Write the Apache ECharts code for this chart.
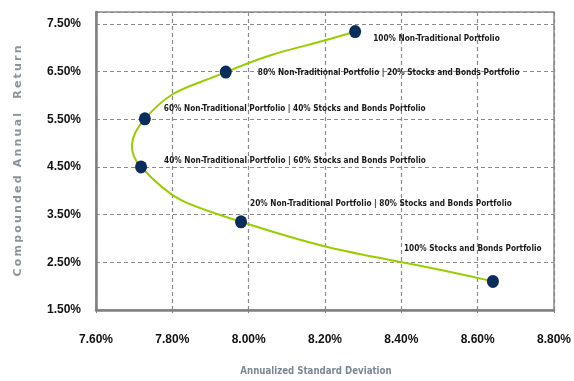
<!DOCTYPE html>
<html>
<head>
<meta charset="utf-8">
<script src="https://cdn.jsdelivr.net/npm/echarts@6/dist/echarts.min.js"></script>
<style>html,body{margin:0;padding:0;background:#fff}#c{width:574px;height:381px}</style>
</head>
<body>
<div id="c"></div>
<script>
// Data
var stdDev = [8.279, 7.94, 7.728, 7.718, 7.98, 8.64];
var compReturn = [7.34, 6.49, 5.51, 4.50, 3.35, 2.10];
var pointLabels = [
  '100% Non-Traditional Portfolio',
  '80% Non-Traditional Portfolio | 20% Stocks and Bonds Portfolio',
  '60% Non-Traditional Portfolio | 40% Stocks and Bonds Portfolio',
  '40% Non-Traditional Portfolio | 60% Stocks and Bonds Portfolio',
  '20% Non-Traditional Portfolio | 80% Stocks and Bonds Portfolio',
  '100% Stocks and Bonds Portfolio'
];
var labelOffsets = [[7, 7], [21, 1], [8, -10], [12, -6], [-2, -18], [-100, -33]];

var labelFont = "'Liberation Sans Narrow', 'DejaVu Sans Condensed', 'Arial Narrow', sans-serif";
var points = stdDev.map(function (x, i) { return [x, compReturn[i]]; });
var scatterData = points.map(function (p, i) {
  return { value: p, label: { formatter: pointLabels[i], offset: labelOffsets[i] } };
});

function spacedName(s) { return s.split('').join('\u2009'); }

// smooth curve through the points (Catmull-Rom style, smooth 0.5), computed in pixel space
function renderCurve(params, api) {
  if (params.dataIndex !== 0) return null;
  var px = points.map(function (p) { return api.coord(p); });
  var n = px.length, s = 0.5, children = [];
  function cps(i) {
    var prev = px[Math.max(i - 1, 0)], cur = px[i], next = px[Math.min(i + 1, n - 1)];
    var vx = next[0] - prev[0], vy = next[1] - prev[1];
    var l0 = Math.hypot(cur[0] - prev[0], cur[1] - prev[1]);
    var l1 = Math.hypot(next[0] - cur[0], next[1] - cur[1]);
    var r = (l0 + l1) ? l1 / (l0 + l1) : 0;
    return {
      before: [cur[0] - vx * s * (1 - r), cur[1] - vy * s * (1 - r)],
      after: [cur[0] + vx * s * r, cur[1] + vy * s * r]
    };
  }
  var c = px.map(function (_, i) { return cps(i); });
  for (var i = 0; i < n - 1; i++) {
    children.push({
      type: 'bezierCurve',
      shape: {
        x1: px[i][0], y1: px[i][1], x2: px[i + 1][0], y2: px[i + 1][1],
        cpx1: c[i].after[0], cpy1: c[i].after[1], cpx2: c[i + 1].before[0], cpy2: c[i + 1].before[1]
      },
      style: { stroke: '#9acd00', lineWidth: 2, fill: null }
    });
  }
  return { type: 'group', children: children };
}

var chart = echarts.init(document.getElementById('c'), null, { renderer: 'canvas' });
chart.setOption({
  animation: false,
  backgroundColor: '#fff',
  grid: { left: 96, right: 19, top: 12, bottom: 67, show: true, borderColor: '#8a8a8a', borderWidth: 1.5, backgroundColor: 'transparent' },
  xAxis: {
    type: 'value', min: 7.6, max: 8.8, interval: 0.2,
    name: 'Annualized Standard Deviation', nameLocation: 'middle', nameGap: 56,
    nameTextStyle: { color: '#7b8794', fontFamily: labelFont, fontWeight: 'bold', fontSize: 9.6, padding: [0, 18, 0, 0] },
    axisLine: { show: true, lineStyle: { color: '#808080', width: 2.5 } },
    axisTick: { show: true, length: 3, lineStyle: { color: '#808080', type: 'dashed' } },
    axisLabel: { margin: 24, color: '#111', fontFamily: "'Liberation Sans', Arial, sans-serif", fontWeight: 'bold', fontSize: 12,
      formatter: function (v) { return v.toFixed(2) + '%'; } },
    splitLine: { show: true, lineStyle: { color: '#8a8a8a', type: [4, 3], width: 1.2 } }
  },
  yAxis: {
    type: 'value', min: 1.5, max: 7.75, interval: 1,
    name: spacedName('Compounded Annual  Return'), nameLocation: 'middle', nameGap: 72, nameRotate: 90,
    nameTextStyle: { color: '#8a939c', fontFamily: "'DejaVu Sans', sans-serif", fontWeight: 'bold', fontSize: 11, padding: [0, 0, 0, 0] },
    axisLine: { show: true, lineStyle: { color: '#808080', width: 2.5 } },
    axisTick: { show: false },
    axisLabel: { margin: 15, showMaxLabel: false, color: '#111', fontFamily: "'Liberation Sans', Arial, sans-serif", fontWeight: 'bold', fontSize: 12,
      formatter: function (v) { return v.toFixed(2) + '%'; } },
    splitLine: { show: true, lineStyle: { color: '#8a8a8a', type: [4, 3], width: 1.2 } }
  },
  series: [{
    type: 'custom',
    renderItem: renderCurve,
    data: points,
    z: 2,
    silent: true
  }, {
    type: 'scatter',
    data: scatterData,
    symbol: 'circle',
    symbolSize: [12, 13],
    itemStyle: { color: '#0b2d5b', opacity: 1 },
    label: { show: true, position: 'right', distance: 5, color: '#1a1a1a', fontFamily: labelFont, fontWeight: 'bold', fontSize: 8.2 },
    z: 3
  }]
});
</script>
</body>
</html>
